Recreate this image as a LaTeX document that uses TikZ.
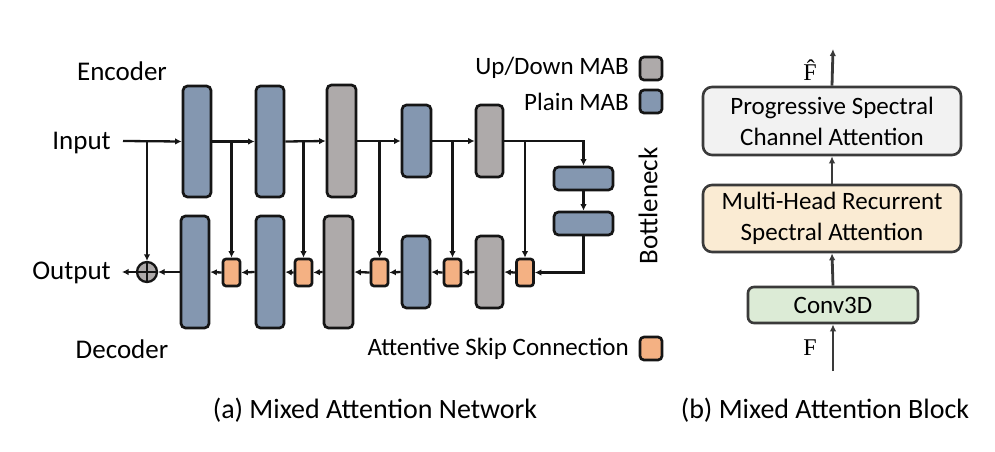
\documentclass[tikz,border=0pt]{standalone}
\usepackage{fontspec}
\setmainfont{Carlito}
\newfontfamily\seriffont{Liberation Serif}
\usetikzlibrary{arrows.meta,calc}
\definecolor{mabblue}{HTML}{8497B0}
\definecolor{mabgray}{HTML}{AEAAAA}
\definecolor{attorange}{HTML}{F4B183}
\definecolor{edgec}{HTML}{151515}
\definecolor{pscafill}{HTML}{F2F2F2}
\definecolor{mhrfill}{HTML}{FAEBD3}
\definecolor{convfill}{HTML}{DCEBD6}
\definecolor{bedge}{HTML}{3A3A3A}
\tikzset{
  blk/.style={draw=edgec, line width=2.7pt, rounded corners=4.5pt, inner sep=0pt},
  blueblk/.style={blk, fill=mabblue},
  grayblk/.style={blk, fill=mabgray},
  attblk/.style={blk, fill=attorange, rounded corners=3pt, minimum width=17pt, minimum height=27pt},
  conn/.style={line width=2.3pt, draw=edgec, -{Latex[length=6.5pt,width=6.5pt]}},
  lbl/.style={font=\fontsize{25}{28}\selectfont, inner sep=0pt},
  biglbl/.style={font=\fontsize{27}{30}\selectfont, inner sep=0pt},
  caplbl/.style={font=\fontsize{28}{31}\selectfont, inner sep=0pt},
  bbox/.style={draw=bedge, line width=2.6pt, rounded corners=9pt, inner sep=0pt, align=center, font=\fontsize{25}{31}\selectfont},
  barrow/.style={line width=2.8pt, draw=bedge, -{Latex[length=7pt,width=6.5pt]}},
}
\begin{document}
\begin{tikzpicture}[x=1pt,y=-1pt]
\useasboundingbox (0,0) rectangle (995,452);
% encoder
\node[blueblk, minimum width=28pt, minimum height=111pt] (enc1) at (197,141.5) {};
\node[blueblk, minimum width=28pt, minimum height=111pt] (enc2) at (270,141.5) {};
\node[grayblk, minimum width=29pt, minimum height=112pt] (enc3) at (341.5,141) {};
\node[blueblk, minimum width=29pt, minimum height=72pt] (enc4) at (416.5,141) {};
\node[grayblk, minimum width=27pt, minimum height=72pt] (enc5) at (489.5,141) {};
% bottleneck
\node[blueblk, minimum width=59pt, minimum height=23pt] (bn1) at (583.5,178.5) {};
\node[blueblk, minimum width=59pt, minimum height=23pt] (bn2) at (583.5,223.5) {};
% decoder
\node[blueblk, minimum width=28pt, minimum height=112pt] (dec1) at (195,272) {};
\node[blueblk, minimum width=28pt, minimum height=112pt] (dec2) at (270,272) {};
\node[grayblk, minimum width=29pt, minimum height=112pt] (dec3) at (338.5,272) {};
\node[blueblk, minimum width=28pt, minimum height=72pt] (dec4) at (416,272) {};
\node[grayblk, minimum width=27pt, minimum height=72pt] (dec5) at (489.5,272) {};
% attentive skips
\node[attblk] (att1) at (231.5,272.5) {};
\node[attblk] (att2) at (303.5,272.5) {};
\node[attblk] (att3) at (379.5,272.5) {};
\node[attblk] (att4) at (452.5,272.5) {};
\node[attblk] (att5) at (525,272.5) {};
% plus
\node[circle, draw=edgec, fill=mabgray, line width=2.3pt, minimum size=20pt, inner sep=0pt] (plus) at (147,272) {};
\draw[line width=2.3pt, edgec] (plus.north) -- (plus.south) (plus.west) -- (plus.east);
% texts
\node[biglbl] (enctxt) at (122,71) {Encoder};
\node[biglbl] (dectxt) at (122,349) {Decoder};
\node[biglbl, anchor=east] (input) at (111,143) {Input};
\node[biglbl, anchor=east] (output) at (111,273) {Output};
\coordinate (instart) at (123,141);
\coordinate (outend) at (122,272);
% main path
\draw[conn] (instart) -- (enc1.west);
\draw[conn] (enc1.east) -- (enc2.west);
\draw[conn] (enc2.east) -- (enc3.west);
\draw[conn] (enc3.east) -- (enc4.west);
\draw[conn] (enc4.east) -- (enc5.west);
\draw[conn] (enc5.east) -| (bn1.north);
\draw[conn] (bn1.south) -- (bn2.north);
\draw[conn] (bn2.south) |- (att5.east);
\draw[conn] (att5.west) -- (dec5.east);
\draw[conn] (dec5.west) -- (att4.east);
\draw[conn] (att4.west) -- (dec4.east);
\draw[conn] (dec4.west) -- (att3.east);
\draw[conn] (att3.west) -- (dec3.east);
\draw[conn] (dec3.west) -- (att2.east);
\draw[conn] (att2.west) -- (dec2.east);
\draw[conn] (dec2.west) -- (att1.east);
\draw[conn] (att1.west) -- (dec1.east);
\draw[conn] (dec1.west) -- (plus.east);
\draw[conn] (plus.west) -- (outend);
% skip verticals
\draw[conn] (plus.north |- instart) -- (plus.north);
\draw[conn] (att1.north |- instart) -- (att1.north);
\draw[conn] (att2.north |- instart) -- (att2.north);
\draw[conn] (att3.north |- instart) -- (att3.north);
\draw[conn] (att4.north |- instart) -- (att4.north);
\draw[conn] (att5.north |- instart) -- (att5.north);
% legend
\node[grayblk, minimum width=22pt, minimum height=23pt, rounded corners=4pt] (leggray) at (651,68.5) {};
\node[blueblk, minimum width=22pt, minimum height=23pt, rounded corners=4pt] (legblue) at (651,101.5) {};
\node[attblk, minimum width=22pt, minimum height=23pt, rounded corners=4pt] (legatt) at (651,348.5) {};
\node[lbl, anchor=east] (legtxt1) at (629,68) {Up/Down MAB};
\node[lbl, anchor=east] (legtxt2) at (629,102) {Plain MAB};
\node[lbl, anchor=east] (legtxt3) at (629,349) {Attentive Skip Connection};
\node[biglbl, rotate=90] (bottle) at (648,206) {Bottleneck};
% captions
\node[caplbl] (capa) at (375,410) {(a) Mixed Attention Network};
\node[caplbl] (capb) at (825,410) {(b) Mixed Attention Block};
% (b) block
\node[bbox, fill=pscafill, minimum width=258pt, minimum height=68pt] (psca) at (832,121) {Progressive Spectral\\Channel Attention};
\node[bbox, fill=mhrfill, minimum width=258pt, minimum height=67pt] (mhr) at (832,218.5) {Multi-Head Recurrent\\Spectral Attention};
\node[bbox, fill=convfill, minimum width=170pt, minimum height=36pt, rounded corners=6pt] (conv) at (833,305) {Conv3D};
\coordinate (fin) at (833,371);
\coordinate (fout) at (833,49);
\draw[barrow] (fin) -- (conv.south);
\draw[barrow] (conv.north) -- (mhr.south);
\draw[barrow] (mhr.north) -- (psca.south);
\draw[barrow] (psca.north) -- (fout);
\node[inner sep=0pt, font=\fontsize{24}{26}\selectfont] (flbl) at (810,348) {\seriffont F};
\node[inner sep=0pt, font=\fontsize{24}{26}\selectfont] (fhat) at (810,70) {\seriffont F̂};
\end{tikzpicture}
\end{document}
